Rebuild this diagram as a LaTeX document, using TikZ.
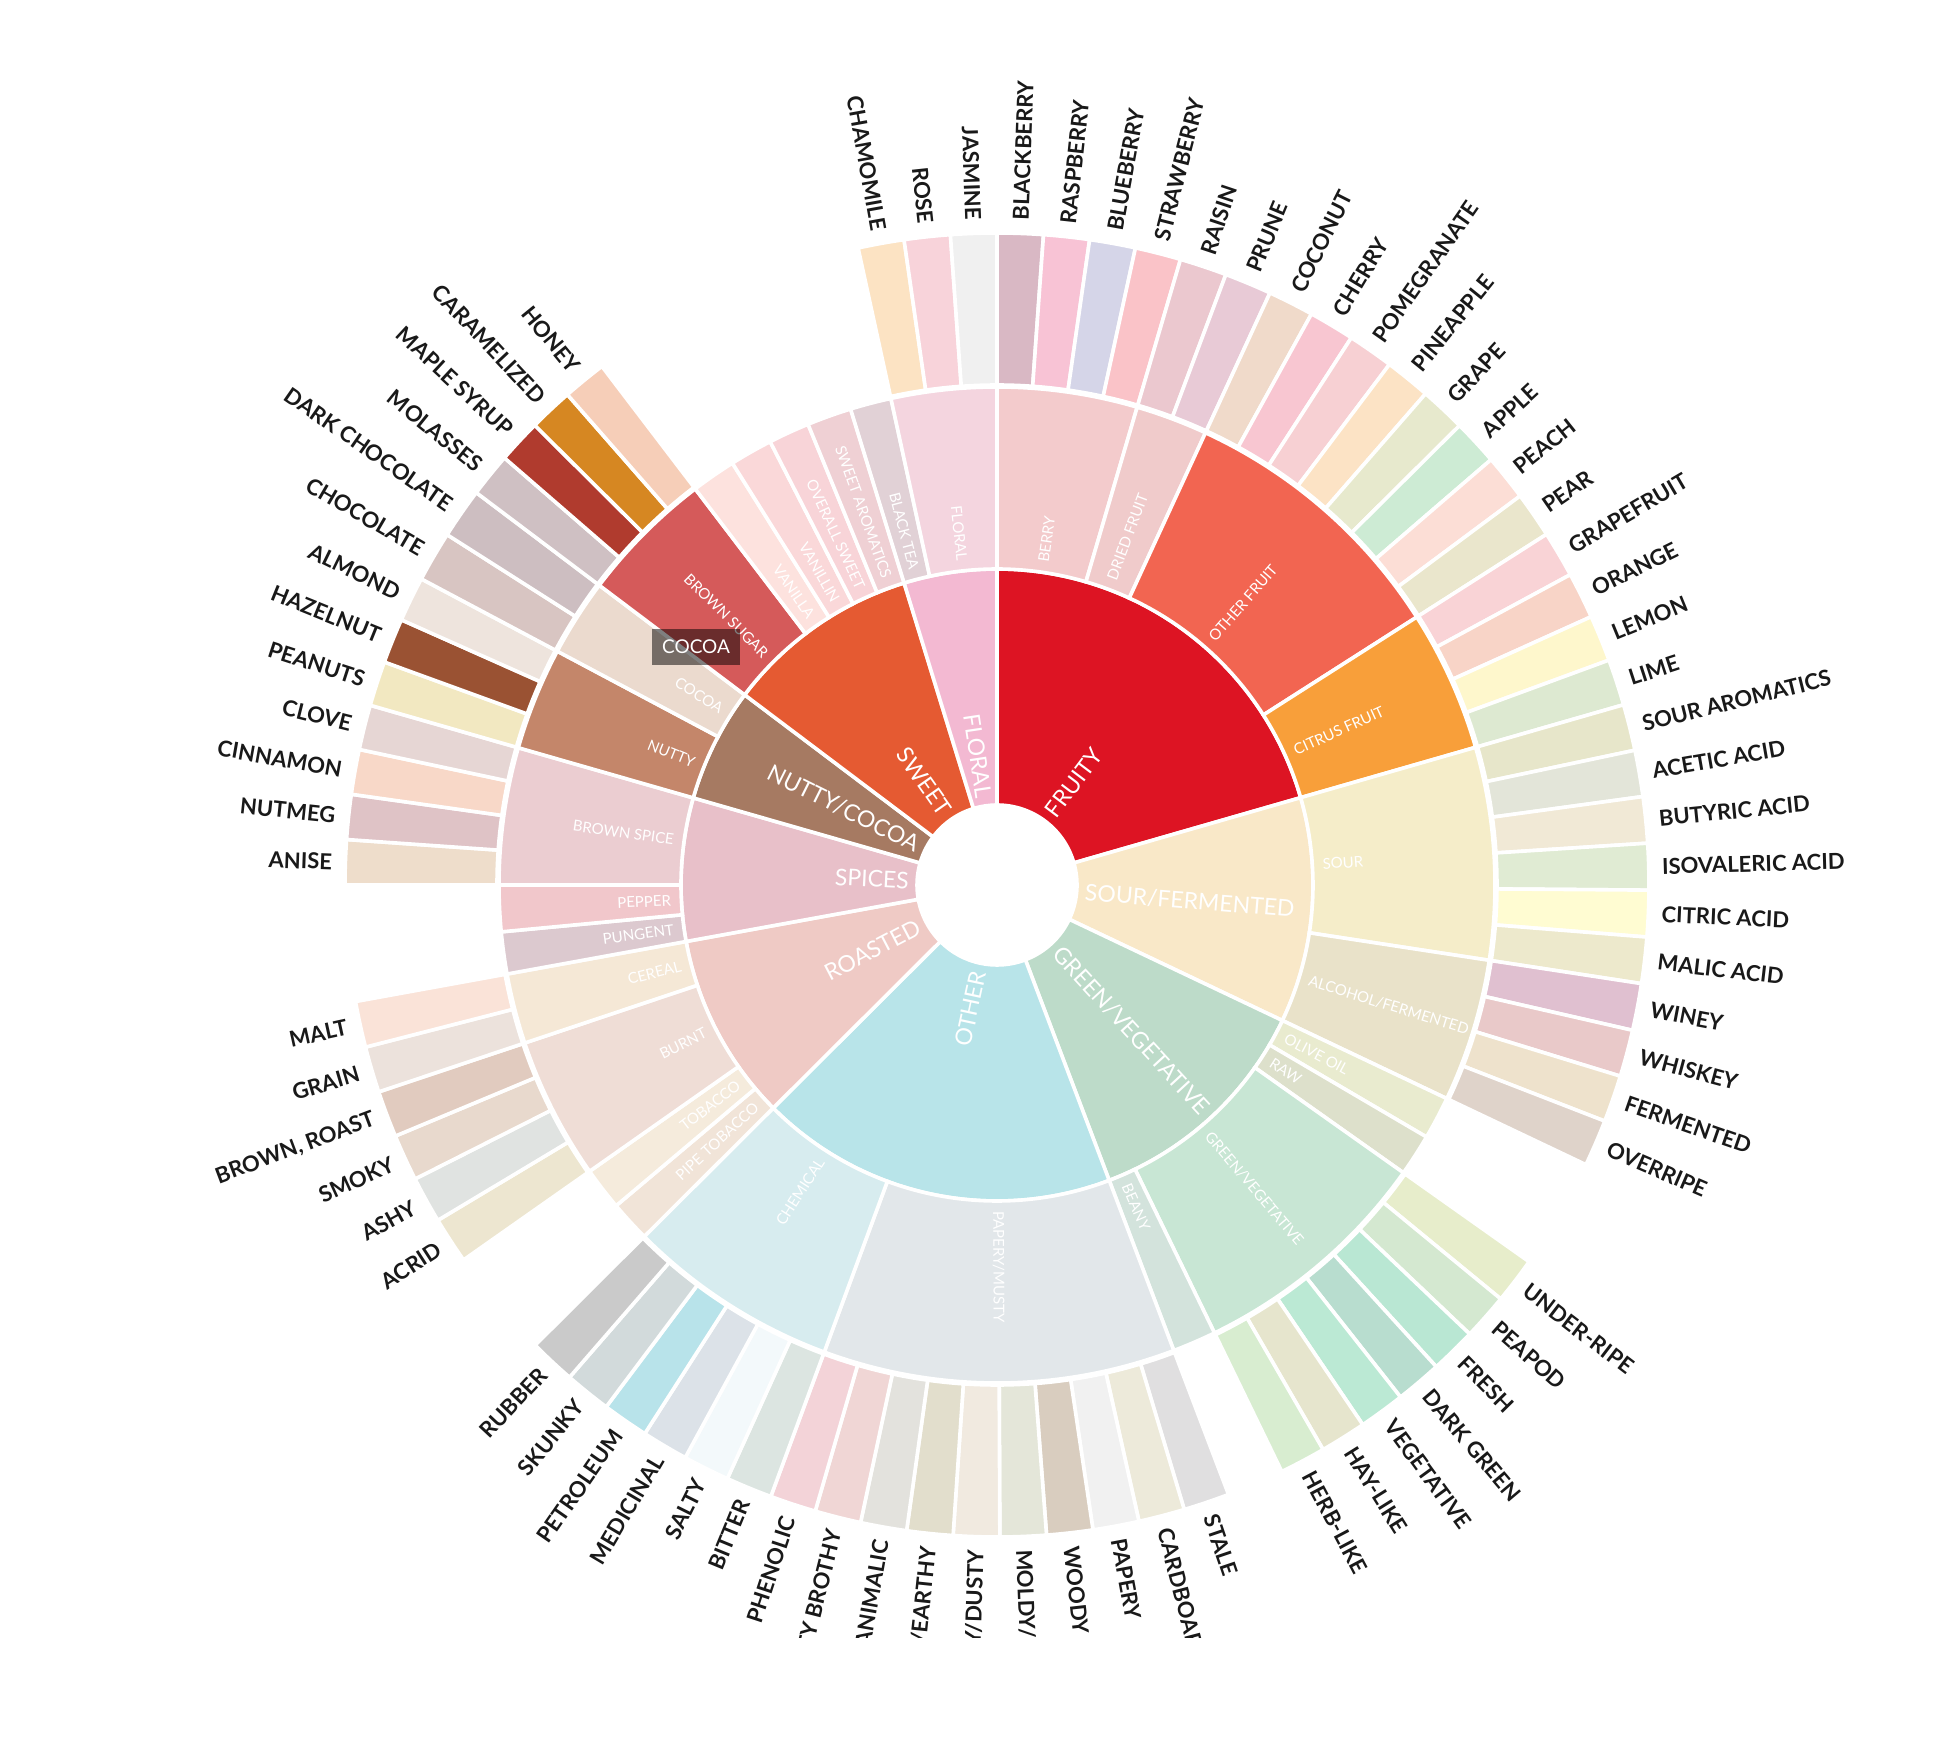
\documentclass[tikz,border=0pt]{standalone}
\usepackage{fontspec}
\setmainfont{Lato}
\usepackage{tikz}

\tikzset{
  leaflbl/.style={font=\bfseries\fontsize{11}{11}\selectfont, text=black!90, inner sep=0pt},
  midlbl/.style={font=\fontsize{7.5}{7.5}\selectfont, text=white, inner sep=0pt},
  corelbl/.style={font=\fontsize{11.5}{11.5}\selectfont, text=white, inner sep=0pt},
  tipbox/.style={fill=black, fill opacity=0.5, text opacity=1, text=white,
    font=\fontsize{9.5}{9.5}\selectfont, minimum width=44pt, minimum height=18pt, inner sep=0pt}
}

% one annular wedge: start, end, inner radius, outer radius, HTML colour
\newcommand{\ringseg}[5]{%
  \edef\segdef{\noexpand\definecolor{segcol}{HTML}{#5}}\segdef
  \fill[segcol, draw=white, line width=1.8pt] (#1:#3) arc[start angle=#1, end angle=#2, radius=#3]
    -- (#2:#4) arc[start angle=#2, end angle=#1, radius=#4] -- cycle;}

% radial label: name, angle, radius, style, text
\newcommand{\spoke}[5]{%
  \pgfmathsetmacro{\spokecos}{cos(#2)}%
  \ifdim\spokecos pt<0pt
    \node[#4, anchor=east, rotate=#2+180] (#1) at (#2:#3) {#5};
  \else
    \node[#4, anchor=west, rotate=#2] (#1) at (#2:#3) {#5};
  \fi}

\begin{document}
\begin{tikzpicture}[x=0.5pt, y=0.5pt]
  % Canvas
  \useasboundingbox (-997,-855) rectangle (949,885);
  \fill[white] (-997,-855) rectangle (949,885);
  \clip (-997,-752) rectangle (949,885);

  % Inner ring
  \foreach \sa/\sb/\col/\lbl [count=\i] in {
    90/16.05/DD1423/FRUITY, 16.05/-25.4/F9E8C8/{SOUR/FERMENTED},
    -25.4/-69.2/BDDBC9/{GREEN/VEGETATIVE}, -69.2/-135.1/B8E4E9/OTHER,
    -135.1/-169.7/EFCAC5/ROASTED, -169.7/-196/E8C0C9/SPICES,
    -196/-217/A67A62/{NUTTY/COCOA}, -217/-252.9/E55A32/SWEET,
    -252.9/-270/F3B9D2/FLORAL}{
    \ringseg{\sa}{\sb}{80}{316}{\col}
    \pgfmathsetmacro{\m}{(\sa+\sb)/2}
    \spoke{core\i}{\m}{88}{corelbl}{\lbl}
  }

  % Middle ring
  \foreach \sa/\sb/\col/\lbl [count=\i] in {
    90/73.65/F3CBCC/BERRY, 73.65/65.25/F0CBCB/{DRIED FRUIT},
    65.25/32.55/F26551/{OTHER FRUIT}, 32.55/16.05/F89F3A/{CITRUS FRUIT},
    16.05/-8.7/F5EDC9/SOUR, -8.7/-25.4/E9E2C9/{ALCOHOL/FERMENTED},
    -25.4/-30.4/E9EBCF/{OLIVE OIL}, -30.4/-35.3/DDE0CB/RAW,
    -35.3/-64.1/C8E6D4/{GREEN/VEGETATIVE}, -64.1/-69.2/D3E3DC/BEANY,
    -69.2/-110.3/E2E7EA/{PAPERY/MUSTY}, -110.3/-135.1/D7ECEF/CHEMICAL,
    -135.1/-139.9/F1E4D8/{PIPE TOBACCO}, -139.9/-144.9/F5EBDC/TOBACCO,
    -144.9/-161.5/EFDDD6/BURNT, -161.5/-169.7/F5E8D6/CEREAL,
    -169.7/-174.6/DCC9CF/PUNGENT, -174.6/-180/F1C7CB/PEPPER,
    -180/-196/EBCDD1/{BROWN SPICE}, -196/-208/C4866A/NUTTY,
    -208/-217/EBDACE/COCOA, -217/-232.7/D55A5A/{BROWN SUGAR},
    -232.7/-237.9/FDE2DE/VANILLA, -237.9/-242.9/FAD8D9/VANILLIN,
    -242.9/-247.7/F8D4D8/{OVERALL SWEET}, -247.7/-252.9/EFD0D4/{SWEET AROMATICS},
    -252.9/-257.7/E1D1D6/{BLACK TEA}, -257.7/-270/F4D5DF/FLORAL}{
    \ringseg{\sa}{\sb}{316}{498}{\col}
    \pgfmathsetmacro{\m}{(\sa+\sb)/2}
    \spoke{mid\i}{\m}{326}{midlbl}{\lbl}
  }

  % Outer ring (leaves)
  \foreach \sa/\sb/\col/\lbl [count=\i] in {
    90/85.91/D9B8C4/BLACKBERRY, 85.91/81.83/F8C3D5/RASPBERRY,
    81.83/77.74/D5D5E8/BLUEBERRY, 77.74/73.65/FAC3C8/STRAWBERRY,
    73.65/69.45/EBC8CF/RAISIN, 69.45/65.25/E8CAD6/PRUNE,
    65.25/61.16/F0DACA/COCONUT, 61.16/57.08/F8C6D1/CHERRY,
    57.08/52.99/F7D0D3/POMEGRANATE, 52.99/48.90/FCE3C5/PINEAPPLE,
    48.90/44.81/E7E9CD/GRAPE, 44.81/40.73/CDEBD4/APPLE,
    40.73/36.64/FCDED6/PEACH, 36.64/32.55/EAE6CC/PEAR,
    32.55/28.43/F9D3D6/GRAPEFRUIT, 28.43/24.30/F8D4C7/ORANGE,
    24.30/20.18/FEF7CC/LEMON, 20.18/16.05/DDE9D1/LIME,
    16.05/11.93/E7E6CA/{SOUR AROMATICS}, 11.93/7.80/E3E5D9/{ACETIC ACID},
    7.80/3.68/F1E9D6/{BUTYRIC ACID}, 3.68/-0.45/E0EBD3/{ISOVALERIC ACID},
    -0.45/-4.58/FFFCD2/{CITRIC ACID}, -4.58/-8.70/EDE9CC/{MALIC ACID},
    -8.70/-12.88/E0C0D0/WINEY, -12.88/-17.05/E9C9C9/WHISKEY,
    -17.05/-21.23/EEE2CC/FERMENTED, -21.23/-25.40/DFD3CA/OVERRIPE,
    -35.30/-39.41/E7EDCB/UNDER-RIPE, -39.41/-43.53/D4E8D0/PEAPOD,
    -43.53/-47.64/B9E7D3/FRESH, -47.64/-51.76/B8DDCF/{DARK GREEN},
    -51.76/-55.87/BBE9D4/VEGETATIVE, -55.87/-59.99/E6E5CD/HAY-LIKE,
    -59.99/-64.10/D8EDD0/HERB-LIKE,
    -69.20/-73.31/E0DFE0/STALE, -73.31/-77.42/EDEADA/CARDBOARD,
    -77.42/-81.53/F1F1F1/PAPERY, -81.53/-85.64/D9CDBF/WOODY,
    -85.64/-89.75/E4E6D9/{MOLDY/DAMP}, -89.75/-93.86/F1EAE0/{MUSTY/DUSTY},
    -93.86/-97.97/E2DECC/{MUSTY/EARTHY}, -97.97/-102.08/E3E2DD/ANIMALIC,
    -102.08/-106.19/F0D6D5/{MEATY BROTHY}, -106.19/-110.30/F3D3D8/PHENOLIC,
    -110.30/-114.43/DCE5E1/BITTER, -114.43/-118.57/F3F9FB/SALTY,
    -118.57/-122.70/DCE2E8/MEDICINAL, -122.70/-126.83/B8E3EA/PETROLEUM,
    -126.83/-130.97/D2DADB/SKUNKY, -130.97/-135.10/CACACA/RUBBER,
    -144.90/-149.05/EDE6D0/ACRID, -149.05/-153.20/E0E3E1/ASHY,
    -153.20/-157.35/E8D9CD/SMOKY, -157.35/-161.50/E1CBBF/{BROWN, ROAST},
    -161.50/-165.60/ECE2DC/GRAIN, -165.60/-169.70/FAE3D8/MALT,
    -180/-184/EEDDCB/ANISE, -184/-188/DFC3C6/NUTMEG,
    -188/-192/F8D8C8/CINNAMON, -192/-196/E6D6D4/CLOVE,
    -196/-200/F2E8C1/PEANUTS, -200/-204/9A5233/HAZELNUT,
    -204/-208/EEE4DD/ALMOND, -208/-212.5/D8C5C2/CHOCOLATE,
    -212.5/-217/CDBEC1/{DARK CHOCOLATE}, -217/-220.93/CFC0C3/MOLASSES,
    -220.93/-224.85/B03B2E/{MAPLE SYRUP}, -224.85/-228.78/D68722/CARAMELIZED,
    -228.78/-232.70/F6CEB8/HONEY,
    -257.7/-261.8/FCE3C3/CHAMOMILE, -261.8/-265.9/F8D3DA/ROSE,
    -265.9/-270/F0F0F0/JASMINE}{
    \ringseg{\sa}{\sb}{500}{652}{\col}
    \pgfmathsetmacro{\m}{(\sa+\sb)/2}
    \spoke{leaf\i}{\m}{665}{leaflbl}{\lbl}
  }

  % Hover box
  \node[tipbox] (tip) at (-301,238) {COCOA};
\end{tikzpicture}
\end{document}
